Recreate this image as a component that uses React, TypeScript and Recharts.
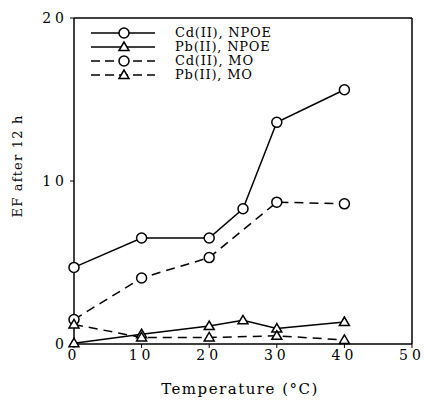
import React from 'react';
import {
  LineChart,
  Line,
  XAxis,
  YAxis,
  ReferenceLine,
  Label,
} from 'recharts';

const cdNpoeTemps = [0, 10, 20, 25, 30, 40];
const cdNpoeEf = [4.7, 6.5, 6.5, 8.3, 13.6, 15.6];

const pbNpoeTemps = [0, 10, 20, 25, 30, 40];
const pbNpoeEf = [0.05, 0.6, 1.1, 1.45, 0.95, 1.35];

const cdMoTemps = [0, 10, 20, 30, 40];
const cdMoEf = [1.5, 4.05, 5.3, 8.7, 8.6];

const pbMoTemps = [0, 10, 20, 30, 40];
const pbMoEf = [1.2, 0.4, 0.4, 0.5, 0.25];

const xTicks = [0, 10, 20, 30, 40, 50];
const yTicks = [0, 10, 20];

const toPoints = (xs: number[], ys: number[]) => xs.map((t, i) => ({ t, ef: ys[i] }));

const series = [
  { name: 'Cd(II), NPOE', data: toPoints(cdNpoeTemps, cdNpoeEf), shape: 'circle', dash: undefined },
  { name: 'Pb(II), NPOE', data: toPoints(pbNpoeTemps, pbNpoeEf), shape: 'triangle', dash: undefined },
  { name: 'Cd(II), MO', data: toPoints(cdMoTemps, cdMoEf), shape: 'circle', dash: '9 6' },
  { name: 'Pb(II), MO', data: toPoints(pbMoTemps, pbMoEf), shape: 'triangle', dash: '9 6' },
];

const FONT = '"DejaVu Serif", "Liberation Serif", serif';
const INK = '#000';

function Marker({ cx, cy, shape }: { cx: number; cy: number; shape: string }) {
  if (shape === 'circle') {
    return <circle cx={cx} cy={cy} r={5} fill="#fff" stroke={INK} strokeWidth={1.5} />;
  }
  return (
    <path
      d={`M${cx},${cy - 5} L${cx - 5},${cy + 3.5} L${cx + 5},${cy + 3.5} Z`}
      fill="#fff"
      stroke={INK}
      strokeWidth={1.5}
    />
  );
}

function LegendBox() {
  return (
    <div
      style={{
        position: 'absolute',
        left: 91,
        top: 26,
        fontFamily: FONT,
        fontSize: 13,
        color: INK,
        lineHeight: '14px',
      }}
    >
      {series.map((s) => (
        <div key={s.name} style={{ display: 'flex', alignItems: 'center', height: 14 }}>
          <svg width={66} height={14}>
            <line
              x1={0}
              y1={7}
              x2={64}
              y2={7}
              stroke={INK}
              strokeWidth={1.5}
              strokeDasharray={s.dash ? '9 5' : undefined}
            />
            <Marker cx={33} cy={7} shape={s.shape} />
          </svg>
          <span style={{ marginLeft: 18, letterSpacing: 0.8 }}>{s.name}</span>
        </div>
      ))}
    </div>
  );
}

const tickStyle = { fill: INK, fontSize: 14, fontFamily: FONT, letterSpacing: 4 };

export default function App() {
  return (
    <div style={{ position: 'absolute', left: 0, top: 0, width: 424, height: 400, background: '#fff' }}>
      <LineChart width={424} height={400} margin={{ top: 18, right: 12, left: 0, bottom: 0 }}>
        <XAxis
          dataKey="t"
          type="number"
          domain={[0, 50]}
          ticks={xTicks}
          tick={tickStyle}
          tickLine={{ stroke: INK }}
          tickSize={4}
          axisLine={{ stroke: INK, strokeWidth: 1.5 }}
          height={56}
          allowDuplicatedCategory={false}
        >
          <Label
            content={() => (
              <text x={240} y={394} textAnchor="middle" fontFamily={FONT} fontSize={15} fill={INK} letterSpacing={1.5}>
                Temperature (°C)
              </text>
            )}
          />
        </XAxis>
        <YAxis
          type="number"
          domain={[0, 20]}
          ticks={yTicks}
          tick={tickStyle}
          tickLine={{ stroke: INK }}
          tickSize={4}
          axisLine={{ stroke: INK, strokeWidth: 1.5 }}
          width={74}
        >
          <Label
            content={() => (
              <text
                x={22}
                y={166}
                transform="rotate(-90 22 166)"
                textAnchor="middle"
                fontFamily={FONT}
                fontSize={13}
                fill={INK}
                letterSpacing={1.2}
              >
                EF after 12 h
              </text>
            )}
          />
        </YAxis>
        <ReferenceLine y={20} stroke={INK} strokeWidth={1.5} />
        <ReferenceLine x={50} stroke={INK} strokeWidth={1.5} />
        {series.map((s) => (
          <Line
            key={s.name}
            data={s.data}
            dataKey="ef"
            name={s.name}
            type="linear"
            stroke={INK}
            strokeWidth={1.5}
            strokeDasharray={s.dash}
            isAnimationActive={false}
            dot={(p: any) => <Marker key={`${s.name}-${p.index}`} cx={p.cx} cy={p.cy} shape={s.shape} />}
            activeDot={false}
          />
        ))}
      </LineChart>
      <LegendBox />
    </div>
  );
}
